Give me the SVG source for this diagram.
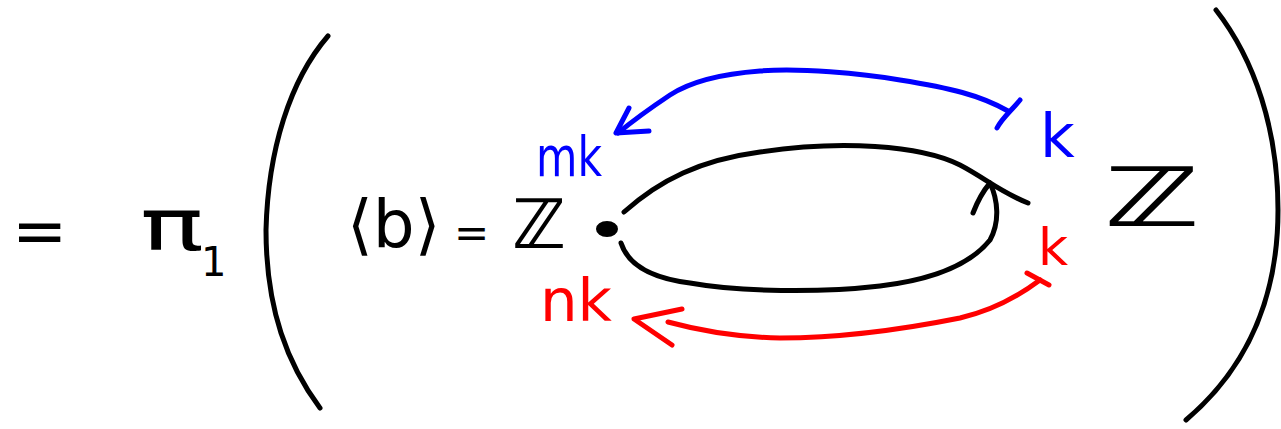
<svg xmlns="http://www.w3.org/2000/svg" width="1281" height="429" viewBox="0 0 1281 429">
<style>
.ink{fill:none;stroke-linecap:round;stroke-linejoin:round;stroke-width:5}
.k{stroke:#000}
.b{stroke:#0000ff}
.r{stroke:#ff0000}
text{font-family:"DejaVu Sans","Liberation Sans",sans-serif}
.tk{fill:#000}
.tb{fill:#0000ff}
.tr{fill:#ff0000}
.zz{font-weight:bold}
</style>
<rect width="1281" height="429" fill="#fff"/>
<g id="equals-left"><text class="tk" x="12" y="253" font-size="66">=</text></g>
<g id="pi1"><text class="tk" x="140" y="250" font-size="72" textLength="64" lengthAdjust="spacingAndGlyphs">π</text><text class="tk" x="201" y="276" font-size="40">1</text></g>
<g id="paren-left"><path class="ink k" d="M328,36 C290,80 268,150 266,230 C266,310 288,365 320,408"/></g>
<g id="paren-right"><path class="ink k" d="M1216,10 C1255,60 1278,130 1278,210 C1278,300 1245,370 1186,420"/></g>
<g id="group-b"><text class="tk" x="347" y="247" font-size="66">⟨b⟩</text><text class="tk" x="454" y="247" font-size="42">=</text><text class="tk zz" x="512" y="248" font-size="68" textLength="54" lengthAdjust="spacingAndGlyphs">ℤ</text></g>
<g id="basepoint"><ellipse cx="607" cy="229" rx="11" ry="8" fill="#000"/></g>
<g id="label-mk"><text class="tb" x="536" y="176" font-size="56" textLength="66" lengthAdjust="spacingAndGlyphs">mk</text></g>
<g id="label-k-blue"><text class="tb" x="1040" y="157" font-size="60">k</text></g>
<g id="label-k-red"><text class="tr" x="1038" y="265" font-size="52">k</text></g>
<g id="label-nk"><text class="tr" x="540" y="321" font-size="58" textLength="72" lengthAdjust="spacingAndGlyphs">nk</text></g>
<g id="label-Z"><text class="tk zz" x="1104" y="226" font-size="82" textLength="96" lengthAdjust="spacingAndGlyphs">ℤ</text></g>
<g id="connectors">
<path class="ink k" d="M624,212 C660,180 700,160 760,152 C840,140 920,145 960,165 C985,178 1000,192 1028,203"/>
<path class="ink k" d="M621,243 C628,265 650,278 690,283 C740,292 820,293 880,286 C930,280 970,265 990,240 C1000,222 998,200 990,183"/>
<path class="ink k" d="M973,213 C978,200 984,190 990,183"/>
<path class="ink b" d="M1008,111 C980,95 950,88 900,80 C860,73 800,68 760,71 C720,74 690,82 670,95 C655,105 640,115 618,133"/>
<path class="ink b" d="M629,108 L616,133 L649,131"/>
<path class="ink b" d="M1020,100 C1012,110 1002,118 997,128"/>
<path class="ink r" d="M1040,280 C1020,295 995,310 960,318 C900,330 840,338 780,338 C730,337 690,328 668,322"/>
<path class="ink r" d="M682,309 L634,319 L672,345"/>
<path class="ink r" d="M1027,273 L1049,285"/>
</g>
</svg>
